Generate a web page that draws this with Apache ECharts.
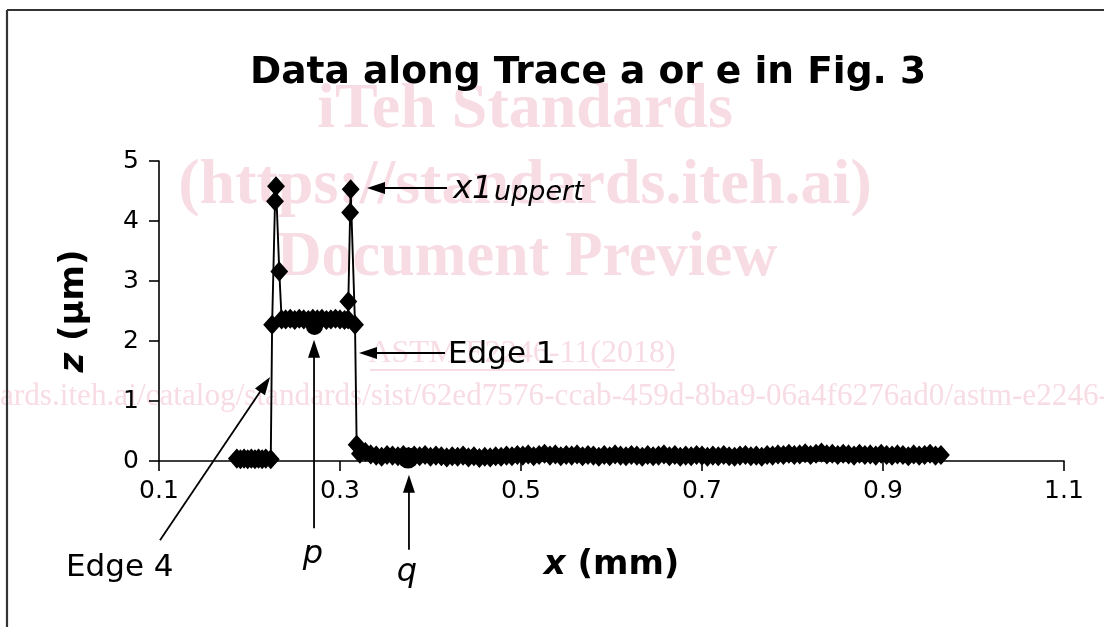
<!DOCTYPE html>
<html><head><meta charset="utf-8">
<script src="https://cdn.jsdelivr.net/npm/echarts@6/dist/echarts.min.js"></script>
<style>html,body{margin:0;padding:0;background:#fff}#c{width:1104px;height:627px}</style>
</head><body><div id="c"></div>
<script>
// ---- data ----
const traceX = [
  0.186,0.190,0.194,0.198,0.202,0.206,0.210,0.214,0.218,0.2235,
  0.2250,0.2282,0.2293,0.2329,0.2355,0.240,0.245,0.250,0.255,0.260,0.265,0.270,0.275,0.280,0.285,0.290,0.295,0.300,0.305,0.3090,
  0.3092,0.3112,0.3118,0.3166,0.3184,
  0.322,0.328,0.334,0.340,0.346,0.352,0.358,0.364,0.370,0.376,
  0.382,0.388,0.394,0.400,0.406,0.412,0.418,0.424,0.430,0.436,
  0.442,0.448,0.454,0.460,0.466,0.472,0.478,0.484,0.490,0.496,
  0.502,0.508,0.514,0.520,0.526,0.532,0.538,0.544,0.550,0.556,
  0.562,0.568,0.574,0.580,0.586,0.592,0.598,0.604,0.610,0.616,
  0.622,0.628,0.634,0.640,0.646,0.652,0.658,0.664,0.670,0.676,
  0.682,0.688,0.694,0.700,0.706,0.712,0.718,0.724,0.730,0.736,
  0.742,0.748,0.754,0.760,0.766,0.772,0.778,0.784,0.790,0.796,
  0.802,0.808,0.814,0.820,0.826,0.832,0.838,0.844,0.850,0.856,
  0.862,0.868,0.874,0.880,0.886,0.892,0.898,0.904,0.910,0.916,
  0.922,0.928,0.934,0.940,0.946,0.952,0.958,0.964
];
const traceZ = [
  0.04,0.03,0.04,0.03,0.04,0.03,0.04,0.03,0.04,0.03,
  2.27,4.33,4.58,3.16,2.36,2.36,2.37,2.35,2.37,2.36,2.35,2.37,2.36,2.37,2.35,2.36,2.37,2.36,2.35,2.36,
  2.66,4.14,4.53,2.27,0.27,
  0.12,0.15,0.11,0.09,0.07,0.10,0.09,0.08,0.10,0.07,
  0.09,0.08,0.10,0.07,0.09,0.08,0.06,0.08,0.07,0.09,
  0.06,0.08,0.05,0.07,0.06,0.08,0.07,0.09,0.08,0.10,
  0.09,0.11,0.08,0.10,0.12,0.09,0.11,0.08,0.10,0.09,
  0.11,0.08,0.10,0.09,0.07,0.10,0.08,0.11,0.09,0.08,
  0.10,0.09,0.07,0.10,0.08,0.09,0.11,0.08,0.10,0.07,
  0.09,0.08,0.10,0.09,0.07,0.09,0.08,0.10,0.08,0.07,
  0.09,0.10,0.08,0.09,0.07,0.10,0.09,0.11,0.10,0.12,
  0.10,0.11,0.13,0.10,0.12,0.14,0.11,0.12,0.10,0.12,
  0.11,0.09,0.12,0.10,0.11,0.09,0.12,0.10,0.09,0.11,
  0.10,0.08,0.11,0.09,0.10,0.12,0.09,0.10
];
const pointP = [0.2718, 2.24];
const pointQ = [0.3752, 0.05];
const xTickValues = [0.1, 0.3, 0.5, 0.7, 0.9, 1.1];
const yTickValues = [0, 1, 2, 3, 4, 5];
const titleText = 'Data along Trace a or e in Fig. 3';

// annotation arrows (data coordinates): from tail to tip
const arrowTails = [[0.4182, 4.55], [0.4160, 1.80], [0.1011, -1.32], [0.2713, -1.12], [0.3762, -1.48]];
const arrowTips  = [[0.3298, 4.55], [0.3210, 1.80], [0.2227, 1.40], [0.2713, 2.02], [0.3762, -0.23]];
// annotation labels
const noteTexts = ['x1', 'uppert', 'Edge 1', 'Edge 4', 'p', 'q'];
const noteAnchors = [[0.4250, 4.53], [0.4702, 4.47], [0.4193, 1.77], [-0.0028, -1.78], [0.2702, -1.56], [0.3740, -1.86]];
// watermark lines
const wmTexts = ['iTeh Standards', '(https://standards.iteh.ai)', 'Document Preview', 'ASTM E2246-11(2018)',
  'ards.iteh.ai/catalog/standards/sist/62ed7576-ccab-459d-8ba9-06a4f6276ad0/astm-e2246-'];

const FONT = '"DejaVu Sans", Verdana, sans-serif';
const chart = echarts.init(document.getElementById('c'), null, {renderer: 'canvas'});

const trace = traceX.map((x, i) => [x, traceZ[i]]);

chart.setOption({
  animation: false,
  backgroundColor: '#fff',
  title: {
    text: titleText, left: 250, top: 54, padding: 0,
    textStyle: {fontFamily: FONT, fontSize: 37.6, fontWeight: 'bold', color: '#000'}
  },
  grid: {left: 159, right: 40, top: 161, bottom: 166, containLabel: false},
  xAxis: {
    type: 'value', min: 0.1, max: 1.1,
    name: '{i|x} (mm)', nameLocation: 'middle', nameGap: 87,
    nameTextStyle: {fontFamily: FONT, fontSize: 34, fontWeight: 'bold', color: '#000',
      rich: {i: {fontFamily: FONT, fontSize: 34, fontWeight: 'bold', fontStyle: 'italic', color: '#000'}}},
    axisLine: {lineStyle: {color: '#000', width: 1.6}},
    axisTick: {show: true, inside: false, length: 10, lineStyle: {color: '#000', width: 1.6}, customValues: xTickValues},
    axisLabel: {fontFamily: FONT, fontSize: 25, color: '#000', margin: 18, customValues: xTickValues},
    splitLine: {show: false}
  },
  yAxis: {
    type: 'value', min: 0, max: 5, interval: 1,
    name: '{i|z} (µm)', nameLocation: 'middle', nameRotate: 90, nameGap: 68,
    nameTextStyle: {fontFamily: FONT, fontSize: 34, fontWeight: 'bold', color: '#000',
      rich: {i: {fontFamily: FONT, fontSize: 34, fontWeight: 'bold', fontStyle: 'italic', color: '#000'}}},
    axisLine: {show: true, lineStyle: {color: '#000', width: 1.6}},
    axisTick: {show: true, length: 10, lineStyle: {color: '#000', width: 1.6}},
    axisLabel: {fontFamily: FONT, fontSize: 25, color: '#000', margin: 20},
    splitLine: {show: false}
  },
  series: [
    {
      type: 'line', data: trace, z: 5,
      symbol: 'diamond', symbolSize: [16, 18], showAllSymbol: true, sampling: 'none',
      lineStyle: {color: '#000', width: 1.9},
      itemStyle: {color: '#000', borderColor: '#000', borderWidth: 1.4, opacity: 1}
    },
    {
      type: 'scatter', data: [pointP], z: 6, symbol: 'circle', symbolSize: 17,
      itemStyle: {color: '#000', opacity: 1}
    },
    {
      type: 'scatter', data: [pointQ], z: 6, symbol: 'circle', symbolSize: 21,
      itemStyle: {color: '#000', opacity: 1}
    }
  ]
});

// ---- overlays positioned through the chart's own scales ----
const px = pt => chart.convertToPixel({gridIndex: 0}, pt);
const gfx = [];

// frame
gfx.push({type: 'line', z: 1, shape: {x1: 7, y1: 10, x2: 1104, y2: 10}, style: {stroke: '#333', lineWidth: 2.2}});
gfx.push({type: 'line', z: 1, shape: {x1: 7, y1: 10, x2: 7, y2: 627}, style: {stroke: '#333', lineWidth: 2.2}});

// watermark (behind the plot)
const WM = '#f8dce4';
const wmSpec = [
  {x: 525, y: 110, size: 64, weight: 'bold', align: 'center', sx: 1},
  {x: 525, y: 186, size: 64, weight: 'bold', align: 'center', sx: 1},
  {x: 527, y: 258, size: 64, weight: 'bold', align: 'center', sx: 0.97},
  {x: 522, y: 354, size: 32, weight: 'normal', align: 'center', sx: 1},
  {x: 0, y: 397, size: 32, weight: 'normal', align: 'left', sx: 0.975}
];
wmTexts.forEach((t, i) => {
  const s = wmSpec[i];
  gfx.push({type: 'text', z: 0, x: s.x, y: s.y, scaleX: s.sx, silent: true,
    style: {text: t, fill: WM, fontFamily: '"Liberation Serif", "Times New Roman", serif', fontSize: s.size,
      fontWeight: s.weight, align: s.align, textAlign: s.align, verticalAlign: 'middle', textVerticalAlign: 'middle'}});
});
gfx.push({type: 'line', z: 0, shape: {x1: 370, y1: 370, x2: 675, y2: 370}, style: {stroke: WM, lineWidth: 2}});

// arrows
arrowTails.forEach((tail, i) => {
  const a = px(tail), b = px(arrowTips[i]);
  const dx = b[0] - a[0], dy = b[1] - a[1];
  const L = Math.hypot(dx, dy), ux = dx / L, uy = dy / L;
  const hl = 18, hw = 6;
  const bx = b[0] - ux * hl, by = b[1] - uy * hl;
  gfx.push({type: 'line', z: 20, shape: {x1: a[0], y1: a[1], x2: bx + ux * 2, y2: by + uy * 2},
    style: {stroke: '#000', lineWidth: 1.8}});
  gfx.push({type: 'polygon', z: 20, shape: {points: [[b[0], b[1]], [bx - uy * hw, by + ux * hw], [bx + uy * hw, by - ux * hw]]},
    style: {fill: '#000'}});
});

// labels
const noteStyle = [
  {size: 32, italic: true, align: 'left'},
  {size: 27, italic: true, align: 'left'},
  {size: 31, italic: false, align: 'left'},
  {size: 31, italic: false, align: 'left'},
  {size: 32, italic: true, align: 'center'},
  {size: 32, italic: true, align: 'center'}
];
noteTexts.forEach((t, i) => {
  const p = px(noteAnchors[i]);
  const s = noteStyle[i];
  gfx.push({type: 'text', z: 20, x: p[0], y: p[1],
    style: {text: t, fill: '#000', fontFamily: FONT, fontSize: s.size, fontStyle: s.italic ? 'italic' : 'normal',
      align: s.align, textAlign: s.align, verticalAlign: 'middle', textVerticalAlign: 'middle'}});
});

chart.setOption({graphic: {elements: gfx}});
</script>
</body></html>
